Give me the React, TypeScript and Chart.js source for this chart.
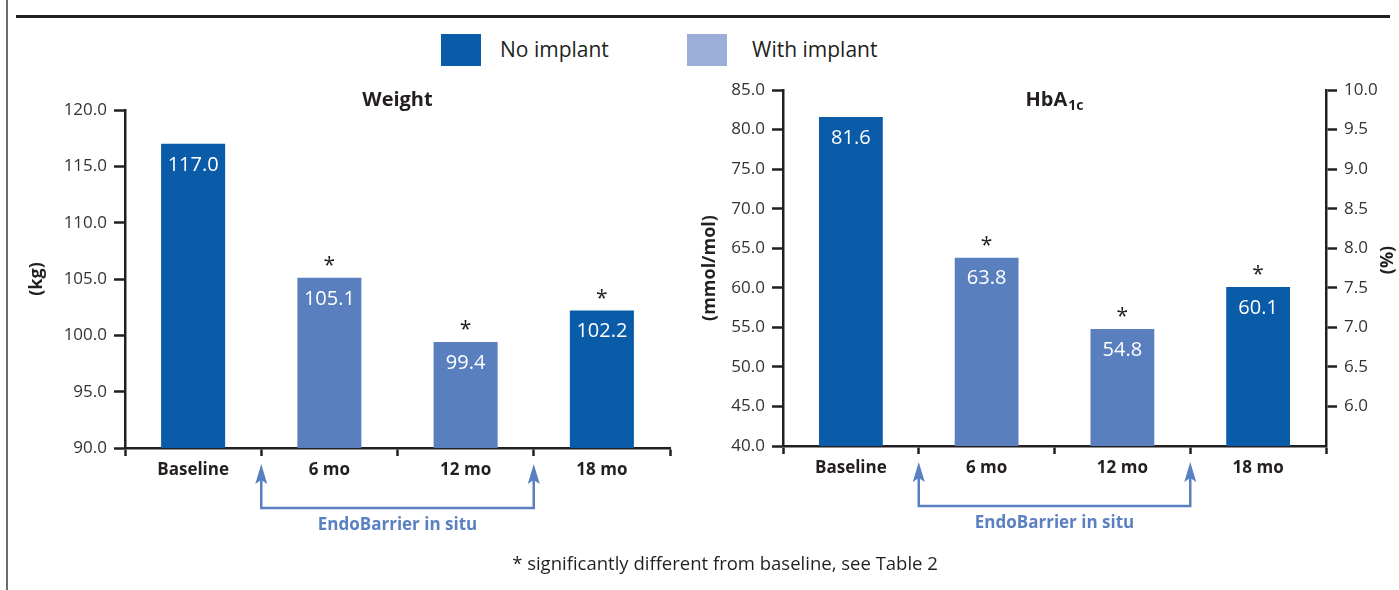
import React, { useEffect, useRef } from 'react';
import { Chart, registerables } from 'chart.js';

Chart.register(...registerables);

// ---------- data ----------
const categories = ['Baseline', '6 mo', '12 mo', '18 mo'];
const implantStatus = ['No implant', 'With implant', 'With implant', 'No implant'];
const weightKg = [117.0, 105.1, 99.4, 102.2];
const weightSignificant = [false, true, true, true];
const hba1cMmolMol = [81.6, 63.8, 54.8, 60.1];
const hba1cSignificant = [false, true, true, true];
const weightAxis = { min: 90, max: 120, step: 5 };
const hba1cAxis = { min: 40, max: 85, step: 5 };
const percentAxis = { min: 5.5, max: 10, step: 0.5 };
const legendLabels = ['No implant', 'With implant'];
const implantPeriodLabel = 'EndoBarrier in situ';
const footnote = '* significantly different from baseline, see Table 2';

// ---------- styles ----------
const FONT = "'Open Sans', 'Noto Sans', sans-serif";
const INK = '#231f20';
const TICK_TXT = '#333333';
const DARK = '#0a5ca8';
const LIGHT = '#5a7fbf';
const LEGEND_LIGHT = '#9aaed8';
const ARROW = '#5b80c2';

const barColor = (s: string) => (s === 'No implant' ? DARK : LIGHT);

function annotPlugin(cfg: {
  values: number[];
  sig: boolean[];
  title: string;
  sub?: string;
  yTitle: string;
  yTitleOffset: number;
  y2Title?: string;
  y2TitleOffset?: number;
}) {
  return {
    id: 'annot',
    afterDraw(chart: any) {
      const { ctx, chartArea, scales } = chart;
      const meta = chart.getDatasetMeta(0);
      ctx.save();
      // values & asterisks
      meta.data.forEach((bar: any, i: number) => {
        ctx.textAlign = 'center';
        ctx.textBaseline = 'middle';
        ctx.fillStyle = '#ffffff';
        ctx.font = `20px ${FONT}`;
        ctx.fillText(cfg.values[i].toFixed(1), bar.x, bar.y + 21);
        if (cfg.sig[i]) {
          ctx.fillStyle = INK;
          ctx.font = `21px ${FONT}`;
          ctx.textBaseline = 'alphabetic';
          ctx.fillText('*', bar.x, bar.y - 6);
        }
      });
      // title
      const cx = (chartArea.left + chartArea.right) / 2;
      ctx.fillStyle = INK;
      ctx.textBaseline = 'middle';
      if (cfg.sub) {
        ctx.font = `bold 20px ${FONT}`;
        const w1 = ctx.measureText(cfg.title).width;
        ctx.font = `bold 14px ${FONT}`;
        const w2 = ctx.measureText(cfg.sub).width;
        const start = cx - (w1 + w2 + 1) / 2;
        ctx.textAlign = 'left';
        ctx.font = `bold 20px ${FONT}`;
        ctx.fillText(cfg.title, start, 100);
        ctx.font = `bold 14px ${FONT}`;
        ctx.fillText(cfg.sub, start + w1 + 1, 106);
      } else {
        ctx.textAlign = 'center';
        ctx.font = `bold 20px ${FONT}`;
        ctx.fillText(cfg.title, cx, 100);
      }
      // axis titles
      const cy = (chartArea.top + chartArea.bottom) / 2;
      ctx.font = `bold 18px ${FONT}`;
      ctx.textAlign = 'center';
      ctx.save();
      ctx.translate(chartArea.left - cfg.yTitleOffset, cy);
      ctx.rotate(-Math.PI / 2);
      ctx.fillText(cfg.yTitle, 0, 0);
      ctx.restore();
      if (cfg.y2Title) {
        ctx.save();
        ctx.translate(chartArea.right + (cfg.y2TitleOffset || 0), cy - 8);
        ctx.rotate(-Math.PI / 2);
        ctx.fillText(cfg.y2Title, 0, 0);
        ctx.restore();
      }
      // implant period arrows
      const xs = scales.x;
      const iFirst = implantStatus.indexOf('With implant');
      const iLast = implantStatus.lastIndexOf('With implant');
      const b1 = (xs.getPixelForValue(iFirst - 1) + xs.getPixelForValue(iFirst)) / 2;
      const b2 = (xs.getPixelForValue(iLast) + xs.getPixelForValue(iLast + 1)) / 2;
      const tip = chartArea.bottom + 16;
      const base = chartArea.bottom + 60;
      ctx.strokeStyle = ARROW;
      ctx.fillStyle = ARROW;
      ctx.lineWidth = 2.5;
      ctx.lineCap = 'butt';
      ctx.beginPath();
      ctx.moveTo(b1, tip + 12);
      ctx.lineTo(b1, base);
      ctx.lineTo(b2, base);
      ctx.lineTo(b2, tip + 12);
      ctx.stroke();
      [b1, b2].forEach((bx) => {
        ctx.beginPath();
        ctx.moveTo(bx, tip);
        ctx.lineTo(bx - 6, tip + 20);
        ctx.lineTo(bx, tip + 16);
        ctx.lineTo(bx + 6, tip + 20);
        ctx.closePath();
        ctx.fill();
      });
      ctx.font = `bold 17px ${FONT}`;
      ctx.textAlign = 'center';
      ctx.textBaseline = 'middle';
      ctx.fillText(implantPeriodLabel, (b1 + b2) / 2, chartArea.bottom + 77);
      ctx.restore();
    },
  };
}

const yScale = (ax: { min: number; max: number; step: number }, width: number, position = 'left', hideMin = false) => ({
  type: 'linear',
  position,
  min: ax.min,
  max: ax.max,
  ticks: {
    stepSize: ax.step,
    color: TICK_TXT,
    font: { family: FONT, size: 17 },
    padding: 7,
    callback: (v: any) => (hideMin && Number(v) === ax.min ? '' : Number(v).toFixed(1)),
  },
  grid: {
    drawOnChartArea: false,
    drawTicks: true,
    tickLength: 11,
    tickWidth: 2.5,
    tickColor: (c: any) => (hideMin && c.tick && c.tick.value === ax.min ? 'rgba(0,0,0,0)' : INK),
  },
  border: { display: true, color: INK, width: 2.5 },
  afterFit: (s: any) => {
    s.width = width;
  },
});

const xScale = {
  type: 'category',
  offset: true,
  grid: {
    offset: true,
    drawOnChartArea: false,
    drawTicks: true,
    tickLength: 8,
    tickWidth: 2.5,
    tickColor: INK,
  },
  border: { display: true, color: INK, width: 2.5 },
  ticks: { color: INK, font: { family: FONT, size: 17, weight: 'bold' }, padding: 4 },
  afterFit: (s: any) => {
    s.height = 30;
  },
};

function WeightChart() {
  const ref = useRef<HTMLCanvasElement>(null);
  useEffect(() => {
    const chart = new Chart(ref.current as HTMLCanvasElement, {
      type: 'bar',
      data: {
        labels: categories,
        datasets: [
          {
            data: weightKg,
            backgroundColor: implantStatus.map(barColor),
            categoryPercentage: 1,
            barPercentage: 0.47,
            borderWidth: 0,
          },
        ],
      },
      options: {
        responsive: false,
        animation: false,
        layout: { padding: { top: 110, bottom: 112, left: 0, right: 30 } },
        plugins: { legend: { display: false }, tooltip: { enabled: false } },
        scales: { x: xScale as any, y: yScale(weightAxis, 125) as any },
      },
      plugins: [
        annotPlugin({ values: weightKg, sig: weightSignificant, title: 'Weight', yTitle: '(kg)', yTitleOffset: 88 }) as any,
      ],
    });
    return () => chart.destroy();
  }, []);
  return <canvas ref={ref} width={700} height={590} style={{ position: 'absolute', left: 0, top: 0 }} />;
}

function HbChart() {
  const ref = useRef<HTMLCanvasElement>(null);
  useEffect(() => {
    const chart = new Chart(ref.current as HTMLCanvasElement, {
      type: 'bar',
      data: {
        labels: categories,
        datasets: [
          {
            data: hba1cMmolMol,
            backgroundColor: implantStatus.map(barColor),
            categoryPercentage: 1,
            barPercentage: 0.47,
            borderWidth: 0,
            yAxisID: 'y',
          },
        ],
      },
      options: {
        responsive: false,
        animation: false,
        layout: { padding: { top: 90, bottom: 114, left: 0, right: 0 } },
        plugins: { legend: { display: false }, tooltip: { enabled: false } },
        scales: {
          x: xScale as any,
          y: yScale(hba1cAxis, 83) as any,
          y2: yScale(percentAxis, 73, 'right', true) as any,
        },
      },
      plugins: [
        annotPlugin({
          values: hba1cMmolMol,
          sig: hba1cSignificant,
          title: 'HbA',
          sub: '1c',
          yTitle: '(mmol/mol)',
          yTitleOffset: 73,
          y2Title: '(%)',
          y2TitleOffset: 62,
        }) as any,
      ],
    });
    return () => chart.destroy();
  }, []);
  return <canvas ref={ref} width={699} height={590} style={{ position: 'absolute', left: 700, top: 0 }} />;
}

export default function App() {
  const legendColors = [DARK, LEGEND_LIGHT];
  const legendX = [441, 687];
  return (
    <div
      style={{
        position: 'absolute',
        left: 0,
        top: 0,
        width: 1399,
        height: 590,
        background: '#ffffff',
        overflow: 'hidden',
        fontFamily: FONT,
        color: INK,
      }}
    >
      <div style={{ position: 'absolute', left: 6, top: 0, width: 1.5, height: 590, background: '#6b6b6b' }} />
      <div style={{ position: 'absolute', left: 16, top: 15, width: 1374, height: 3, background: INK }} />
      {legendLabels.map((l, i) => (
        <React.Fragment key={l}>
          <div
            style={{
              position: 'absolute',
              left: legendX[i],
              top: 34,
              width: 40,
              height: 32,
              background: legendColors[i],
            }}
          />
          <div
            style={{
              position: 'absolute',
              left: legendX[i] + (i === 0 ? 59 : 65),
              top: 35,
              fontSize: 21,
              lineHeight: '28px',
              whiteSpace: 'nowrap',
            }}
          >
            {l}
          </div>
        </React.Fragment>
      ))}
      <WeightChart />
      <HbChart />
      <div
        style={{
          position: 'absolute',
          left: 725,
          top: 549,
          transform: 'translateX(-50%)',
          fontSize: 18.5,
          lineHeight: '28px',
          whiteSpace: 'nowrap',
        }}
      >
        {footnote}
      </div>
    </div>
  );
}
